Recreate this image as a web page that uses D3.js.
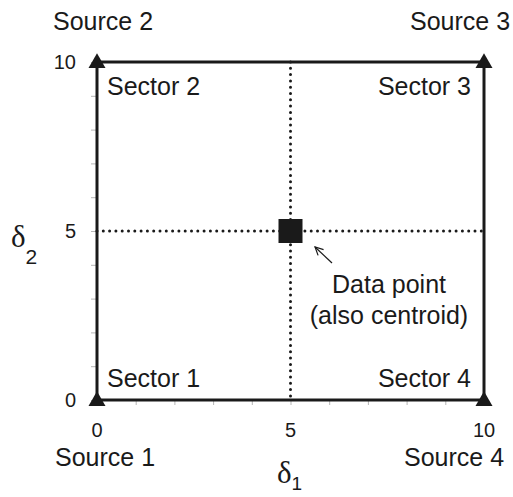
<!DOCTYPE html>
<meta charset="utf-8">
<head>
    <script src="https://d3js.org/d3.v7.min.js"></script>
    <style>
        body { margin: 0; background: #fff; }
        text { font-family: 'Liberation Sans', Arial, Helvetica, sans-serif; fill: #1a1a1a; }
        .greek { font-family: 'Liberation Serif', 'Times New Roman', serif; }
    </style>
</head>
<body>
<div id="chart"></div>
<script>

// data
var sourceNames = ["Source 1", "Source 2", "Source 3", "Source 4"];
var sourceX = [0, 0, 10, 10];
var sourceY = [0, 10, 10, 0];
var sectorNames = ["Sector 1", "Sector 2", "Sector 3", "Sector 4"];
var dataPoint = [5, 5];
var tickValues = [0, 1, 2, 3, 4, 5, 6, 7, 8, 9, 10];
var tickLabels = [0, 5, 10];

var width = 513,
    height = 497;

var svg = d3.select("#chart")
    .append("svg")
    .attr("width", width)
    .attr("height", height);

var x = d3.scaleLinear().domain([0, 10]).range([97, 484]);
var y = d3.scaleLinear().domain([0, 10]).range([400, 62]);

var ink = "#1a1a1a";

// grey minor ticks (outward) on bottom and left
var xAxis = d3.axisBottom(x).tickValues(tickValues).tickSize(5).tickFormat("");
var yAxis = d3.axisLeft(y).tickValues(tickValues).tickSize(6).tickFormat("");

svg.append("g")
    .attr("transform", "translate(0," + y(0) + ")")
    .call(xAxis)
    .call(function(g) { g.select(".domain").remove(); })
    .selectAll("line").attr("stroke", "#b5b5b5");

svg.append("g")
    .attr("transform", "translate(" + x(0) + ",0)")
    .call(yAxis)
    .call(function(g) { g.select(".domain").remove(); })
    .selectAll("line").attr("stroke", "#b5b5b5");

// tick labels
svg.selectAll(".xlab")
    .data(tickLabels)
    .enter()
    .append("text")
    .attr("x", function(d) { return x(d); })
    .attr("y", y(0) + 37)
    .attr("text-anchor", "middle")
    .style("font-size", "20px")
    .text(function(d) { return d; });

svg.selectAll(".ylab")
    .data(tickLabels)
    .enter()
    .append("text")
    .attr("x", x(0) - 21)
    .attr("y", function(d) { return y(d); })
    .attr("dy", "0.35em")
    .attr("text-anchor", "end")
    .style("font-size", "20px")
    .text(function(d) { return d; });

// dotted cross lines through the data point
svg.append("line")
    .attr("x1", x(dataPoint[0])).attr("x2", x(dataPoint[0]))
    .attr("y1", y(10)).attr("y2", y(0))
    .attr("stroke", ink)
    .attr("stroke-width", 3)
    .attr("stroke-linecap", "round")
    .attr("stroke-dasharray", "0,6.3");

svg.append("line")
    .attr("x1", x(0)).attr("x2", x(10))
    .attr("y1", y(dataPoint[1])).attr("y2", y(dataPoint[1]))
    .attr("stroke", ink)
    .attr("stroke-width", 3)
    .attr("stroke-linecap", "round")
    .attr("stroke-dasharray", "0,6.3");

// frame
svg.append("rect")
    .attr("x", x(0))
    .attr("y", y(10))
    .attr("width", x(10) - x(0))
    .attr("height", y(0) - y(10))
    .attr("fill", "none")
    .attr("stroke", ink)
    .attr("stroke-width", 3);

// data point
var sq = 24;
svg.append("rect")
    .attr("x", x(dataPoint[0]) - sq / 2)
    .attr("y", y(dataPoint[1]) - sq / 2)
    .attr("width", sq)
    .attr("height", sq)
    .attr("fill", ink);

// source triangles at corners
svg.selectAll(".src")
    .data(sourceNames)
    .enter()
    .append("path")
    .attr("d", d3.symbol().type(d3.symbolTriangle).size(125))
    .attr("transform", function(d, i) {
        return "translate(" + x(sourceX[i]) + "," + (y(sourceY[i]) + 1) + ")";
    })
    .attr("fill", ink);

// source labels
var srcLabelX = [105, 103, 460, 454];
var srcLabelY = [466, 30, 30, 466];
svg.selectAll(".srclab")
    .data(sourceNames)
    .enter()
    .append("text")
    .attr("x", function(d, i) { return srcLabelX[i]; })
    .attr("y", function(d, i) { return srcLabelY[i]; })
    .attr("text-anchor", "middle")
    .style("font-size", "25px")
    .text(function(d) { return d; });

// sector labels
svg.selectAll(".seclab")
    .data(sectorNames)
    .enter()
    .append("text")
    .attr("x", function(d, i) { return i == 0 || i == 1 ? x(0) + 10 : x(10) - 13; })
    .attr("y", function(d, i) { return i == 0 || i == 3 ? y(0) - 13 : y(10) + 33; })
    .attr("text-anchor", function(d, i) { return i == 0 || i == 1 ? "start" : "end"; })
    .style("font-size", "25px")
    .text(function(d) { return d; });

// annotation
svg.append("defs").append("marker")
    .attr("id", "open")
    .attr("viewBox", "0 0 10 10")
    .attr("refX", 9).attr("refY", 5)
    .attr("markerWidth", 10).attr("markerHeight", 10)
    .attr("markerUnits", "userSpaceOnUse")
    .attr("orient", "auto")
    .append("path")
    .attr("d", "M1,1 L9,5 L1,9")
    .attr("fill", "none")
    .attr("stroke", ink)
    .attr("stroke-width", 1.2);

svg.append("line")
    .attr("x1", 332).attr("y1", 263)
    .attr("x2", 315).attr("y2", 247)
    .attr("stroke", ink)
    .attr("stroke-width", 1.2)
    .attr("marker-end", "url(#open)");

svg.append("text")
    .attr("x", 389).attr("y", 293)
    .attr("text-anchor", "middle")
    .style("font-size", "25px")
    .text("Data point");

svg.append("text")
    .attr("x", 389).attr("y", 324)
    .attr("text-anchor", "middle")
    .style("font-size", "25px")
    .text("(also centroid)");

// axis titles
var t2 = svg.append("text")
    .attr("class", "greek")
    .attr("x", 11).attr("y", 247)
    .style("font-size", "31px");
t2.append("tspan").text("δ");
t2.append("tspan").attr("dy", 17).style("font-size", "21px")
    .style("font-family", "'Liberation Sans', Arial, sans-serif").text("2");

var t1 = svg.append("text")
    .attr("class", "greek")
    .attr("x", 277).attr("y", 483)
    .style("font-size", "31px");
t1.append("tspan").text("δ");
t1.append("tspan").attr("dy", 7).style("font-size", "19px")
    .style("font-family", "'Liberation Sans', Arial, sans-serif").text("1");

</script>
</body>
